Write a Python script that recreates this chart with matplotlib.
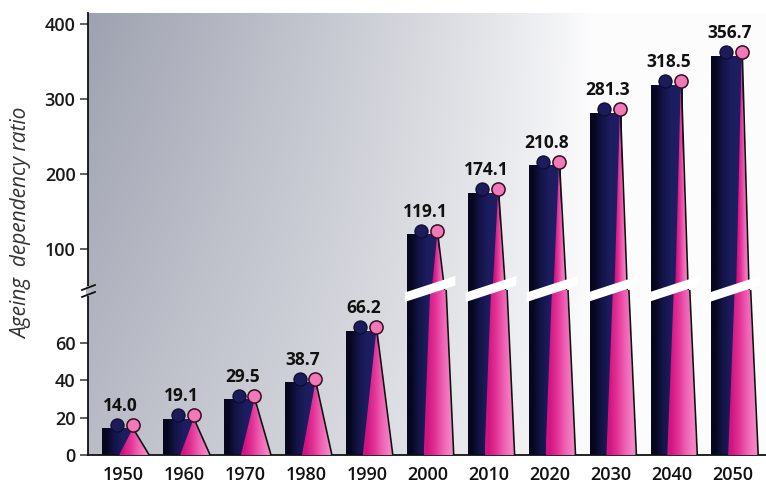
import numpy as np
import matplotlib
matplotlib.use("Agg")
import matplotlib.pyplot as plt
from matplotlib import transforms
from matplotlib.patches import Polygon
from matplotlib.lines import Line2D

# ---------------- data ----------------
years = ["1950", "1960", "1970", "1980", "1990", "2000",
         "2010", "2020", "2030", "2040", "2050"]
values = [14.0, 19.1, 29.5, 38.7, 66.2, 119.1, 174.1, 210.8, 281.3, 318.5, 356.7]
value_labels = ["14.0", "19.1", "29.5", "38.7", "66.2", "119.1",
                "174.1", "210.8", "281.3", "318.5", "356.7"]
lower_ticks = [0, 20, 40, 60]
upper_ticks = [100, 200, 300, 400]
y_label = "Ageing  dependency ratio"

plt.rcParams["font.family"] = ["Open Sans", "DejaVu Sans"]

W, H = 766, 487
fig = plt.figure(figsize=(W / 100, H / 100), dpi=100)
fig.patch.set_facecolor("white")


def fx(px):
    return px / W


def fy(py):
    return (H - py) / H


x_left, x_right = 88, 766
y_base, y_break, y_top = 455, 290, 13
px_per_cat = 60.9
first_center = 123.5
lo_scale = 1.867   # px per unit below the break
hi_scale = 0.75    # px per unit above the break

xlim = (-(first_center - x_left) / px_per_cat,
        (x_right - first_center) / px_per_cat)
lo_ylim = (0, (y_base - y_break) / lo_scale)
hi_ylim = (100 - (y_break - 249) / hi_scale, 400 + (24 - y_top) / hi_scale)

# ---------------- background gradient ----------------
ax_bg = fig.add_axes([fx(x_left), fy(y_base), fx(x_right) - fx(x_left),
                      fy(y_top) - fy(y_base)], zorder=0)
nu, nv = 400, 200
u = np.linspace(0, 1, nu)[None, :]
v = np.linspace(1, 0, nv)[:, None]
d = np.clip(1 - u / 0.74, 0, 1) ** 0.85 * (0.70 + 0.30 * v)
c_dark = np.array([158, 162, 176]) / 255
c_light = np.array([252, 252, 253]) / 255
img = c_light[None, None, :] + (c_dark - c_light)[None, None, :] * d[..., None]
ax_bg.imshow(img, extent=[0, 1, 0, 1], aspect="auto", interpolation="bilinear")
ax_bg.set_xlim(0, 1)
ax_bg.set_ylim(0, 1)
ax_bg.axis("off")

# ---------------- data axes ----------------
ax_lo = fig.add_axes([fx(x_left), fy(y_base), fx(x_right) - fx(x_left),
                      fy(y_break) - fy(y_base)], zorder=1)
ax_hi = fig.add_axes([fx(x_left), fy(y_break), fx(x_right) - fx(x_left),
                      fy(y_top) - fy(y_break)], zorder=1)

navy_grad = np.array([[[6, 6, 30], [20, 20, 72], [28, 28, 96], [30, 30, 100]]]) / 255
pink_grad = np.array([[[210, 20, 128], [226, 50, 150], [238, 95, 178], [245, 130, 196]]]) / 255

# pictogram geometry (category units relative to category centre)
rect_l, rect_r = -0.345, 0.18
tri_l, tri_r, tri_apex = -0.07, 0.41, 0.15
hi_tri_l, hi_tri_r = 0.06, 0.26
head_navy_x, head_pink_x = -0.11, 0.15


def draw_body(ax, i, val, tl, tr, ybase, apex_y):
    ax.imshow(navy_grad, extent=[i + rect_l, i + rect_r, 0, val],
              aspect="auto", interpolation="bilinear", zorder=2)
    tri = Polygon([(i + tl, ybase), (i + tr, ybase), (i + tri_apex, apex_y)],
                  closed=True, facecolor="none", edgecolor="none",
                  transform=ax.transData)
    ax.add_patch(tri)
    im = ax.imshow(pink_grad, extent=[i + tl, i + tr, ybase, apex_y],
                   aspect="auto", interpolation="bilinear", zorder=3)
    im.set_clip_path(tri)
    ax.plot([i + tr + 0.012, i + tri_apex + 0.012], [ybase, apex_y],
            color="#111111", lw=1.2, zorder=4, solid_capstyle="butt")


for i, val in enumerate(values):
    if val <= lo_ylim[1]:
        draw_body(ax_lo, i, val, tri_l, tri_r, 0, val)
    else:
        # lower segment of a broken bar
        draw_body(ax_lo, i, val, tri_l, tri_r, 0, 2.1 * lo_ylim[1])
        # upper segment of a broken bar
        draw_body(ax_hi, i, val, hi_tri_l, hi_tri_r, hi_ylim[0], val)

for ax, ylim in ((ax_lo, lo_ylim), (ax_hi, hi_ylim)):
    ax.set_facecolor("none")
    ax.set_xlim(*xlim)
    ax.set_ylim(*ylim)
    for s in ("top", "right"):
        ax.spines[s].set_visible(False)
    ax.spines["left"].set_linewidth(1.3)
    ax.spines["left"].set_color("#111111")
    ax.tick_params(axis="y", length=6, width=1.1, color="#333333",
                   labelsize=13, labelcolor="#1a1a1a", pad=3)
    for t in ax.get_yticklabels():
        t.set_fontweight("semibold")

ax_hi.spines["bottom"].set_visible(False)
ax_hi.set_xticks([])
ax_hi.set_yticks(upper_ticks)
ax_lo.set_yticks(lower_ticks)
ax_lo.spines["bottom"].set_linewidth(1.3)
ax_lo.spines["bottom"].set_color("#111111")
ax_lo.set_xticks(range(len(years)))
ax_lo.set_xticklabels(years)
ax_lo.tick_params(axis="x", length=0, labelsize=13, labelcolor="#111111", pad=8)
for ax in (ax_lo, ax_hi):
    for t in ax.get_yticklabels() + ax.get_xticklabels():
        t.set_fontweight("semibold")

# heads and value labels
for i, val in enumerate(values):
    ax = ax_lo if val <= lo_ylim[1] else ax_hi
    head_tr = transforms.offset_copy(ax.transData, fig=fig, x=0, y=4, units="dots")
    ax.plot([i + head_navy_x], [val], marker="o", ms=9.5, color="#1c1c5a",
            mec="#0a0a2a", mew=0.8, transform=head_tr, zorder=5, clip_on=False)
    ax.plot([i + head_pink_x], [val], marker="o", ms=9.5, color="#f07ab8",
            mec="#3a0a25", mew=1.1, transform=head_tr, zorder=5, clip_on=False)
    ax.annotate(value_labels[i], xy=(i - 0.05, val), xytext=(0, 14),
                textcoords="offset pixels", ha="center", va="bottom",
                fontsize=12.5, fontweight="bold", color="#111111", zorder=6)

# white slanted break band across each broken bar
band_tr = transforms.blended_transform_factory(ax_lo.transData,
                                               transforms.IdentityTransform())
for i, val in enumerate(values):
    if val > lo_ylim[1]:
        xl, xr = i - 0.38, i + 0.45
        band = Polygon([(xl, H - 302), (xr, H - 285.5), (xr, H - 276), (xl, H - 292.5)],
                       closed=True, facecolor="white", edgecolor="none",
                       transform=band_tr, zorder=5)
        fig.add_artist(band)

# axis break marks
idt = transforms.IdentityTransform()
gap = Polygon([(86, H - 296), (91, H - 296), (91, H - 286), (86, H - 286)],
              closed=True, facecolor="#b8bbc5", edgecolor="none", transform=idt, zorder=6)
fig.add_artist(gap)
for y0 in (290, 297):
    fig.add_artist(Line2D([82, 95], [H - y0, H - y0 + 5], color="#111111",
                          lw=1.3, transform=idt, zorder=7))

fig.text(fx(22), fy(223), y_label, rotation=90, ha="center", va="center",
         fontsize=15, style="italic", color="#333333")

fig.savefig("out.png", dpi=100)
